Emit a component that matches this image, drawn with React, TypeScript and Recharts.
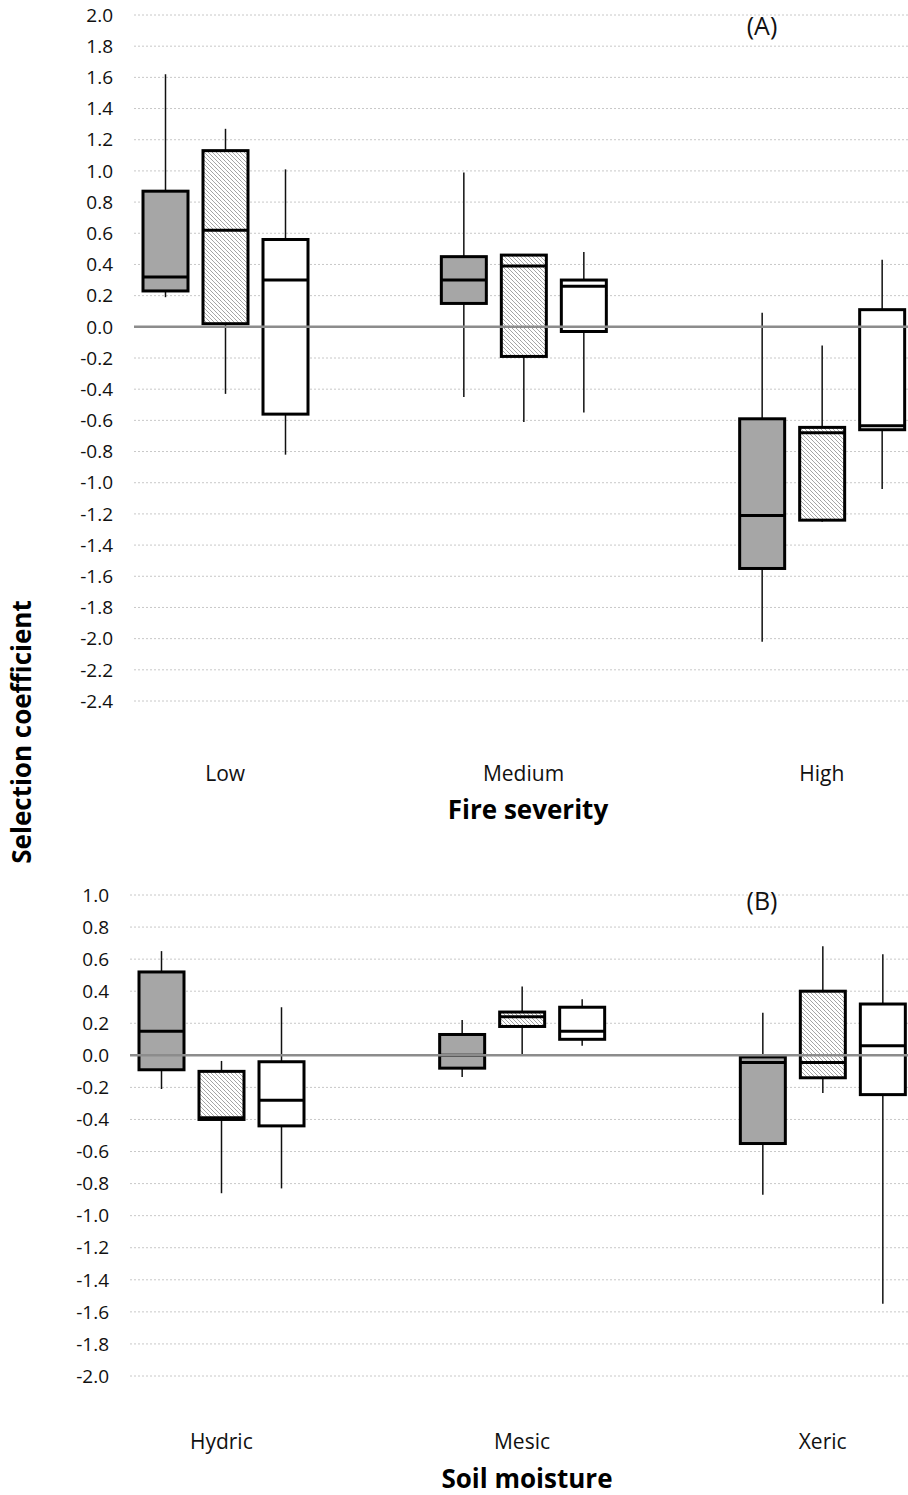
import { ComposedChart, Bar, XAxis, YAxis, CartesianGrid, ReferenceLine, Label } from "recharts";

const FONT = '"Open Sans", sans-serif';

// box stats per group: [min, q1, median, q3, max]
type Stats = number[];

// ─── (A) Fire severity ───────────────────────────────────────
const fireCategories = ["Low", "Medium", "High"];
const fireGray: Stats[] = [
  [0.19, 0.23, 0.32, 0.87, 1.62],
  [-0.45, 0.15, 0.30, 0.45, 0.99],
  [-2.02, -1.55, -1.21, -0.59, 0.09],
];
const fireHatched: Stats[] = [
  [-0.43, 0.02, 0.62, 1.13, 1.27],
  [-0.61, -0.19, 0.39, 0.46, 0.46],
  [-1.25, -1.24, -0.68, -0.645, -0.12],
];
const fireWhite: Stats[] = [
  [-0.82, -0.56, 0.30, 0.56, 1.01],
  [-0.55, -0.03, 0.26, 0.30, 0.48],
  [-1.04, -0.66, -0.635, 0.11, 0.43],
];
const fireTicks = [2.0, 1.8, 1.6, 1.4, 1.2, 1.0, 0.8, 0.6, 0.4, 0.2, 0, -0.2, -0.4, -0.6, -0.8, -1.0, -1.2, -1.4, -1.6, -1.8, -2.0, -2.2, -2.4];

// ─── (B) Soil moisture ───────────────────────────────────────
const moistureCategories = ["Hydric", "Mesic", "Xeric"];
const moistureGray: Stats[] = [
  [-0.21, -0.09, 0.15, 0.52, 0.65],
  [-0.135, -0.08, 0.0, 0.13, 0.22],
  [-0.87, -0.55, -0.045, -0.01, 0.265],
];
const moistureHatched: Stats[] = [
  [-0.86, -0.40, -0.39, -0.10, -0.035],
  [0.0, 0.18, 0.24, 0.27, 0.43],
  [-0.235, -0.14, -0.045, 0.40, 0.68],
];
const moistureWhite: Stats[] = [
  [-0.83, -0.44, -0.28, -0.04, 0.30],
  [0.06, 0.10, 0.15, 0.30, 0.35],
  [-1.55, -0.245, 0.06, 0.32, 0.63],
];
const moistureTicks = [1.0, 0.8, 0.6, 0.4, 0.2, 0, -0.2, -0.4, -0.6, -0.8, -1.0, -1.2, -1.4, -1.6, -1.8, -2.0];

const GRAY_FILL = "#a6a6a6";
const HATCH_FILL = "url(#hatch)";
const WHITE_FILL = "#ffffff";

// bar spans min..max; the inner marks are placed along that span
function BoxShape(props: any) {
  const { x, y, width, height, stats, fill } = props;
  if (!stats) return null;
  const [min, q1, med, q3, max] = stats;
  const top = Math.min(y, y + height);
  const bottom = Math.max(y, y + height);
  const py = (v: number) => (max === min ? top : top + ((max - v) / (max - min)) * (bottom - top));
  const cx = x + width / 2;
  return (
    <g>
      <line x1={cx} x2={cx} y1={py(max)} y2={py(q3)} stroke="#111" strokeWidth={1.5} />
      <line x1={cx} x2={cx} y1={py(q1)} y2={py(min)} stroke="#111" strokeWidth={1.5} />
      <rect x={x} y={py(q3)} width={width} height={Math.max(py(q1) - py(q3), 0)} fill={fill} stroke="#000" strokeWidth={3} />
      <line x1={x} x2={x + width} y1={py(med)} y2={py(med)} stroke="#000" strokeWidth={3} />
    </g>
  );
}

interface PanelProps {
  categories: string[];
  gray: Stats[];
  hatched: Stats[];
  white: Stats[];
  ticks: number[];
  height: number;
  marginTop: number;
  axisHeight: number;
  yWidth: number;
  padLeft: number;
  padRight: number;
  catMargin: number;
  title: string;
  titleOffset: number;
  titleDx: number;
}

function BoxPanel(p: PanelProps) {
  const rows = p.categories.map((name, i) => ({
    name,
    gray: p.gray[i],
    hatched: p.hatched[i],
    white: p.white[i],
  }));
  const lo = p.ticks[p.ticks.length - 1];
  const hi = p.ticks[0];
  return (
    <ComposedChart
      width={908}
      height={p.height}
      data={rows}
      margin={{ top: p.marginTop, right: 0, bottom: 0, left: 0 }}
      barSize={45}
      barGap={15}
    >
      <CartesianGrid vertical={false} stroke="#c8c8c8" strokeDasharray="2 2" />
      <XAxis
        dataKey="name"
        height={p.axisHeight}
        padding={{ left: p.padLeft, right: p.padRight }}
        axisLine={false}
        tickLine={false}
        tickSize={0}
        tickMargin={p.catMargin}
        tick={{ fill: "#111", fontSize: 21, fontFamily: FONT }}
      >
        <Label
          value={p.title}
          position="insideBottom"
          offset={p.titleOffset}
          dx={p.titleDx}
          style={{ fill: "#000", fontSize: 26, fontWeight: 700, fontFamily: FONT }}
        />
      </XAxis>
      <YAxis
        type="number"
        domain={[lo, hi]}
        ticks={p.ticks}
        interval={0}
        width={p.yWidth}
        axisLine={false}
        tickLine={false}
        tickSize={0}
        tickMargin={21}
        tickFormatter={(v: number) => v.toFixed(1)}
        tick={{ fill: "#111", fontSize: 19, fontFamily: FONT }}
        allowDataOverflow
      />
      <Bar dataKey={(d: any) => [d.gray[0], d.gray[4]]} isAnimationActive={false}
        shape={(s: any) => <BoxShape {...s} stats={s.payload?.gray} fill={GRAY_FILL} />} />
      <Bar dataKey={(d: any) => [d.hatched[0], d.hatched[4]]} isAnimationActive={false}
        shape={(s: any) => <BoxShape {...s} stats={s.payload?.hatched} fill={HATCH_FILL} />} />
      <Bar dataKey={(d: any) => [d.white[0], d.white[4]]} isAnimationActive={false}
        shape={(s: any) => <BoxShape {...s} stats={s.payload?.white} fill={WHITE_FILL} />} />
      <ReferenceLine y={0} stroke="#8c8c8c" strokeWidth={2.5} />
    </ComposedChart>
  );
}

export default function App() {
  return (
    <div style={{ position: "relative", width: 908, height: 1495, background: "#fff", fontFamily: FONT }}>
      <style>{`body{margin:0}`}</style>
      <svg width={0} height={0} style={{ position: "absolute" }}>
        <defs>
          <pattern id="hatch" width={4} height={4} patternUnits="userSpaceOnUse">
            <rect width={4} height={4} fill="#fff" />
            <path d="M-1,-1 l2,2 M0,0 l4,4 M3,3 l2,2" stroke="#a0a0a0" strokeWidth={0.9} />
          </pattern>
        </defs>
      </svg>

      <div style={{ position: "absolute", left: 0, top: 0 }}>
        <BoxPanel
          categories={fireCategories}
          gray={fireGray}
          hatched={fireHatched}
          white={fireWhite}
          ticks={fireTicks}
          height={850}
          marginTop={15}
          axisHeight={149}
          yWidth={134}
          padLeft={-58}
          padRight={-63}
          catMargin={65}
          title="Fire severity"
          titleOffset={31}
          titleDx={7}
        />
      </div>
      <div style={{ position: "absolute", left: 0, top: 850 }}>
        <BoxPanel
          categories={moistureCategories}
          gray={moistureGray}
          hatched={moistureHatched}
          white={moistureWhite}
          ticks={moistureTicks}
          height={645}
          marginTop={45}
          axisHeight={119}
          yWidth={130}
          padLeft={-59}
          padRight={-65}
          catMargin={58}
          title="Soil moisture"
          titleOffset={7}
          titleDx={8}
        />
      </div>

      <div style={{ position: "absolute", left: 762, top: 25, transform: "translate(-50%,-50%)", fontSize: 25, lineHeight: 1, color: "#111" }}>(A)</div>
      <div style={{ position: "absolute", left: 762, top: 900, transform: "translate(-50%,-50%)", fontSize: 25, lineHeight: 1, color: "#111" }}>(B)</div>
      <div
        style={{
          position: "absolute",
          left: 21,
          top: 732,
          transform: "translate(-50%,-50%) rotate(-90deg)",
          fontSize: 26,
          fontWeight: 700,
          whiteSpace: "nowrap",
          lineHeight: 1,
          color: "#000",
        }}
      >
        Selection coefficient
      </div>
    </div>
  );
}
